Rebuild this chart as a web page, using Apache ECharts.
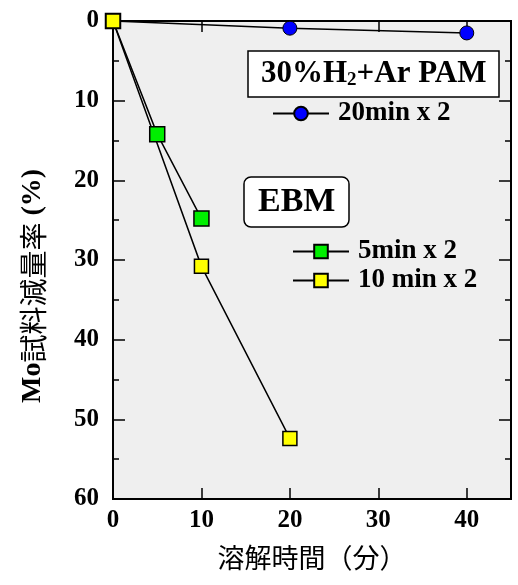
<!DOCTYPE html>
<html>
<head>
<meta charset="utf-8">
<script src="https://cdn.jsdelivr.net/npm/echarts@6/dist/echarts.min.js"></script>
<style>
  html, body { margin: 0; padding: 0; background: #fff; }
  #chart { width: 518px; height: 585px; }
</style>
</head>
<body>
<div id="chart"></div>
<script>
// dissolution time (min) vs Mo weight loss (%)
var pamTime = [0, 20, 40];
var pamLoss = [0, 0.9, 1.5];
var ebm5Time = [0, 5, 10];
var ebm5Loss = [0, 14.2, 24.8];
var ebm10Time = [0, 10, 20];
var ebm10Loss = [0, 30.8, 52.4];

var serif = '"Liberation Serif", "Times New Roman", serif';
var cjk = '"Noto Sans CJK JP", sans-serif';

function pairs(xs, ys) {
    return xs.map(function (x, i) { return [x, ys[i]]; });
}

var chart = echarts.init(document.getElementById('chart'));

var tickLabel = { fontFamily: serif, fontWeight: 'bold', fontSize: 25, color: '#000' };
var axisLine = { onZero: false, lineStyle: { color: '#000', width: 2 } };
var tickStyle = { color: '#000', width: 1.5 };
var legendText = { fontFamily: serif, fontWeight: 'bold', fontSize: 27, lineHeight: 27, color: '#000', padding: [0, 0, 0, 4] };

chart.setOption({
    animation: false,
    grid: {
        left: 113, right: 7, top: 21, bottom: 86,
        show: true, backgroundColor: '#efefef', borderColor: '#000', borderWidth: 2
    },
    title: [{
        text: '{b|30%H}{s|2}{b|+Ar PAM}',
        left: 248, top: 50,
        padding: [8, 13, 7, 13],
        backgroundColor: '#fff', borderColor: '#000', borderWidth: 1.5,
        textStyle: {
            rich: {
                b: { fontFamily: serif, fontWeight: 'bold', fontSize: 31, color: '#000' },
                s: { fontFamily: serif, fontWeight: 'bold', fontSize: 19, color: '#000', verticalAlign: 'bottom', padding: [13, 0, 0, 0] }
            }
        }
    }, {
        text: 'EBM',
        left: 244, top: 177,
        padding: [8, 14, 8, 14],
        backgroundColor: '#fff', borderColor: '#000', borderWidth: 1.5, borderRadius: 7,
        textStyle: { fontFamily: serif, fontWeight: 'bold', fontSize: 34, color: '#000' }
    }],
    legend: [{
        data: ['20min x 2'],
        left: 272, top: 100, padding: 0,
        itemWidth: 56, itemHeight: 17,
        textStyle: legendText
    }, {
        data: ['5min x 2', '10 min x 2'],
        left: 292, top: 238, padding: 0, orient: 'vertical', itemGap: 2,
        itemWidth: 56, itemHeight: 17,
        textStyle: legendText
    }],
    xAxis: [{
        type: 'value', min: 0, max: 45, interval: 10, position: 'bottom',
        name: '溶解時間（分）', nameLocation: 'middle', nameGap: 45,
        nameTextStyle: { fontFamily: cjk, fontWeight: 'normal', fontSize: 27, color: '#000' },
        axisLine: axisLine,
        axisTick: { inside: true, length: 11, lineStyle: tickStyle },
        axisLabel: Object.assign({ margin: 9, showMaxLabel: false }, tickLabel),
        splitLine: { show: false }
    }, {
        type: 'value', min: 0, max: 45, interval: 10, position: 'top',
        axisLine: axisLine,
        axisTick: { inside: true, length: 11, lineStyle: tickStyle },
        axisLabel: { show: false },
        splitLine: { show: false }
    }],
    yAxis: [{
        type: 'value', min: 0, max: 60, interval: 10, inverse: true, position: 'left',
        name: '{m|Mo}{c|試料減量率}{p| (%)}', nameLocation: 'middle', nameGap: 66,
        nameTextStyle: {
            rich: {
                m: { fontFamily: serif, fontWeight: 'bold', fontSize: 28, color: '#000' },
                c: { fontFamily: cjk, fontWeight: 'normal', fontSize: 28, color: '#000' },
                p: { fontFamily: serif, fontWeight: 'bold', fontSize: 28, color: '#000', padding: [0, 52, 0, 0] }
            }
        },
        axisLine: axisLine,
        axisTick: { inside: true, length: 12, lineStyle: tickStyle },
        minorTick: { show: true, splitNumber: 2, length: 6, lineStyle: tickStyle },
        axisLabel: Object.assign({ margin: 14 }, tickLabel),
        splitLine: { show: false }, minorSplitLine: { show: false }
    }, {
        type: 'value', min: 0, max: 60, interval: 10, inverse: true, position: 'right',
        axisLine: axisLine,
        axisTick: { inside: true, length: 12, lineStyle: tickStyle },
        minorTick: { show: true, splitNumber: 2, length: 6, lineStyle: tickStyle },
        axisLabel: { show: false },
        splitLine: { show: false }, minorSplitLine: { show: false }
    }],
    series: [{
        name: '20min x 2', type: 'line', data: pairs(pamTime, pamLoss),
        symbol: 'circle', symbolSize: 14,
        lineStyle: { color: '#000', width: 1.5 },
        itemStyle: { color: '#0000ff', borderColor: '#000', borderWidth: 1 }
    }, {
        name: '5min x 2', type: 'line', data: pairs(ebm5Time, ebm5Loss),
        symbol: 'rect', symbolSize: 15,
        lineStyle: { color: '#000', width: 1.5 },
        itemStyle: { color: '#00ee00', borderColor: '#000', borderWidth: 1.5 }
    }, {
        name: '10 min x 2', type: 'line', data: pairs(ebm10Time, ebm10Loss),
        symbol: 'rect', symbolSize: 14,
        lineStyle: { color: '#000', width: 1.5 },
        itemStyle: { color: '#ffff00', borderColor: '#000', borderWidth: 1.5 }
    }]
});
</script>
</body>
</html>
